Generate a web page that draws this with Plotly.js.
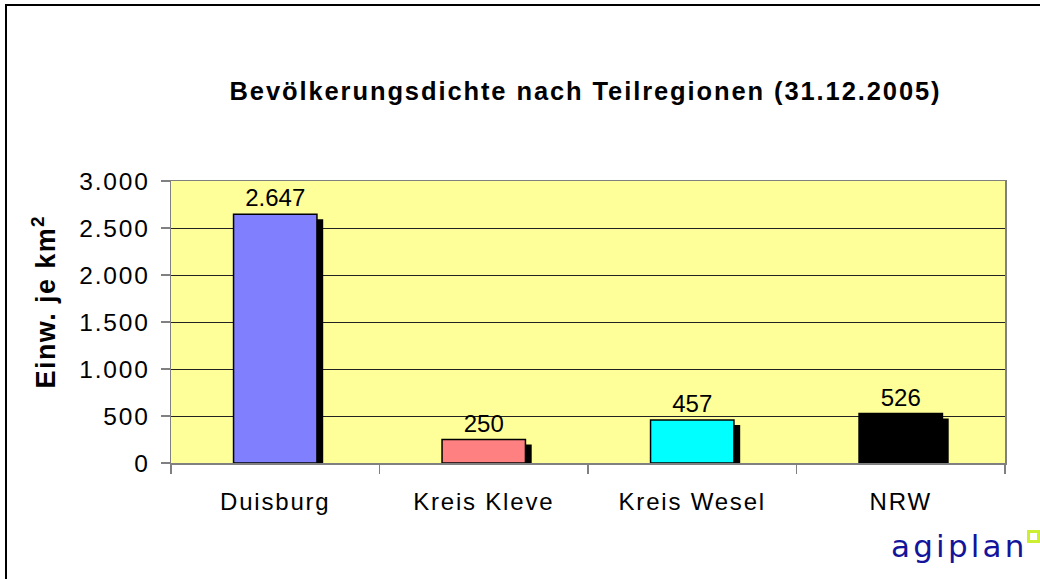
<!DOCTYPE html>
<html>
<head>
<meta charset="utf-8">
<script src="https://cdn.plot.ly/plotly-3.0.1.min.js"></script>
<style>
  html, body { margin: 0; padding: 0; width: 1040px; height: 579px; overflow: hidden; background: #fff; }
  #chart { position: absolute; left: 0; top: 0; width: 1040px; height: 579px; }
  #frame { position: absolute; left: 5px; top: 4px; width: 2000px; height: 2000px;
           border-left: 2px solid #000; border-top: 2px solid #000; pointer-events: none; }
  #logo { position: absolute; left: 891px; top: 526px; font-family: "DejaVu Sans", sans-serif;
          font-size: 31px; color: #14149a; letter-spacing: 3.2px; line-height: 40px; }
  #logosq { position: absolute; left: 1027px; top: 530px; width: 7px; height: 7px;
            border: 3px solid #ccee33; }
  #chart .xtick text, #chart .ytick text { letter-spacing: 1.8px; }
  #chart .gtitle { letter-spacing: 1.9px; }
  #chart .annotation-text { letter-spacing: 1.4px; }
</style>
</head>
<body>
<div id="chart"></div>
<div id="frame"></div>
<div id="logo">agiplan</div>
<div id="logosq"></div>
<script>
const categories = ["Duisburg", "Kreis Kleve", "Kreis Wesel", "NRW"];
const density = [2647, 250, 457, 526];
const barColors = ["#8080FF", "#FF8080", "#00FFFF", "#000000"];
const yTicks = [0, 500, 1000, 1500, 2000, 2500, 3000];

const barWidth = 0.40;
// shadow drawn behind each bar, a few pixels right and down
const shadowShiftX = 0.03;
const shadowDrop = 53;

const shadow = {
  type: "bar",
  x: categories,
  y: density.map(v => v - shadowDrop),
  width: barWidth,
  offset: -barWidth / 2 + shadowShiftX,
  marker: { color: "#000000", line: { width: 0 } },
  hoverinfo: "skip",
  showlegend: false
};

const bars = {
  type: "bar",
  x: categories,
  y: density,
  width: barWidth,
  offset: -barWidth / 2,
  marker: { color: barColors, line: { color: "#000000", width: 1.5 } },
  text: density,
  texttemplate: "%{y:,}",
  textposition: "outside",
  cliponaxis: false,
  textfont: { family: "Liberation Sans, Arial, sans-serif", size: 24, color: "#000" },
  showlegend: false
};

const layout = {
  width: 1040,
  height: 579,
  margin: { l: 171, r: 35, t: 181, b: 116 },
  paper_bgcolor: "#ffffff",
  plot_bgcolor: "#FFFF99",
  separators: ",.",
  barmode: "overlay",
  font: { family: "Liberation Sans, Arial, sans-serif", size: 24, color: "#000" },
  title: {
    text: "Bevölkerungsdichte nach Teilregionen (31.12.2005)",
    font: { family: "Liberation Sans, Arial, sans-serif", size: 25.5, weight: "bold", color: "#000" },
    xref: "paper", x: 0.497, xanchor: "center",
    yref: "container", y: 1 - 91 / 579, yanchor: "middle"
  },
  xaxis: {
    type: "category",
    showgrid: false,
    showline: true, linecolor: "#808080", linewidth: 1.5, mirror: true,
    ticks: "outside", ticklen: 9, tickcolor: "#808080", tickwidth: 1.5,
    tickson: "boundaries",
    ticklabelstandoff: 17,
    tickfont: { size: 24 },
    range: [-0.5, 3.5]
  },
  yaxis: {
    range: [0, 3000],
    tickvals: yTicks,
    tickformat: ",d",
    showgrid: true, gridcolor: "#222", gridwidth: 1,
    showline: true, linecolor: "#808080", linewidth: 1.5, mirror: true,
    ticks: "outside", ticklen: 9, tickcolor: "#808080", tickwidth: 1.5,
    ticklabelstandoff: 6,
    tickfont: { size: 24.5 },
    zeroline: false
  },
  annotations: [{
    text: "Einw. je km<sup>2</sup>",
    xref: "paper", yref: "paper",
    x: (44 - 171) / 834, y: (463 - 302) / 282,
    xanchor: "center", yanchor: "middle",
    textangle: -90, showarrow: false,
    font: { family: "Liberation Sans, Arial, sans-serif", size: 27, weight: "bold", color: "#000" }
  }]
};

Plotly.newPlot("chart", [shadow, bars], layout, { displayModeBar: false, staticPlot: true });
</script>
</body>
</html>
